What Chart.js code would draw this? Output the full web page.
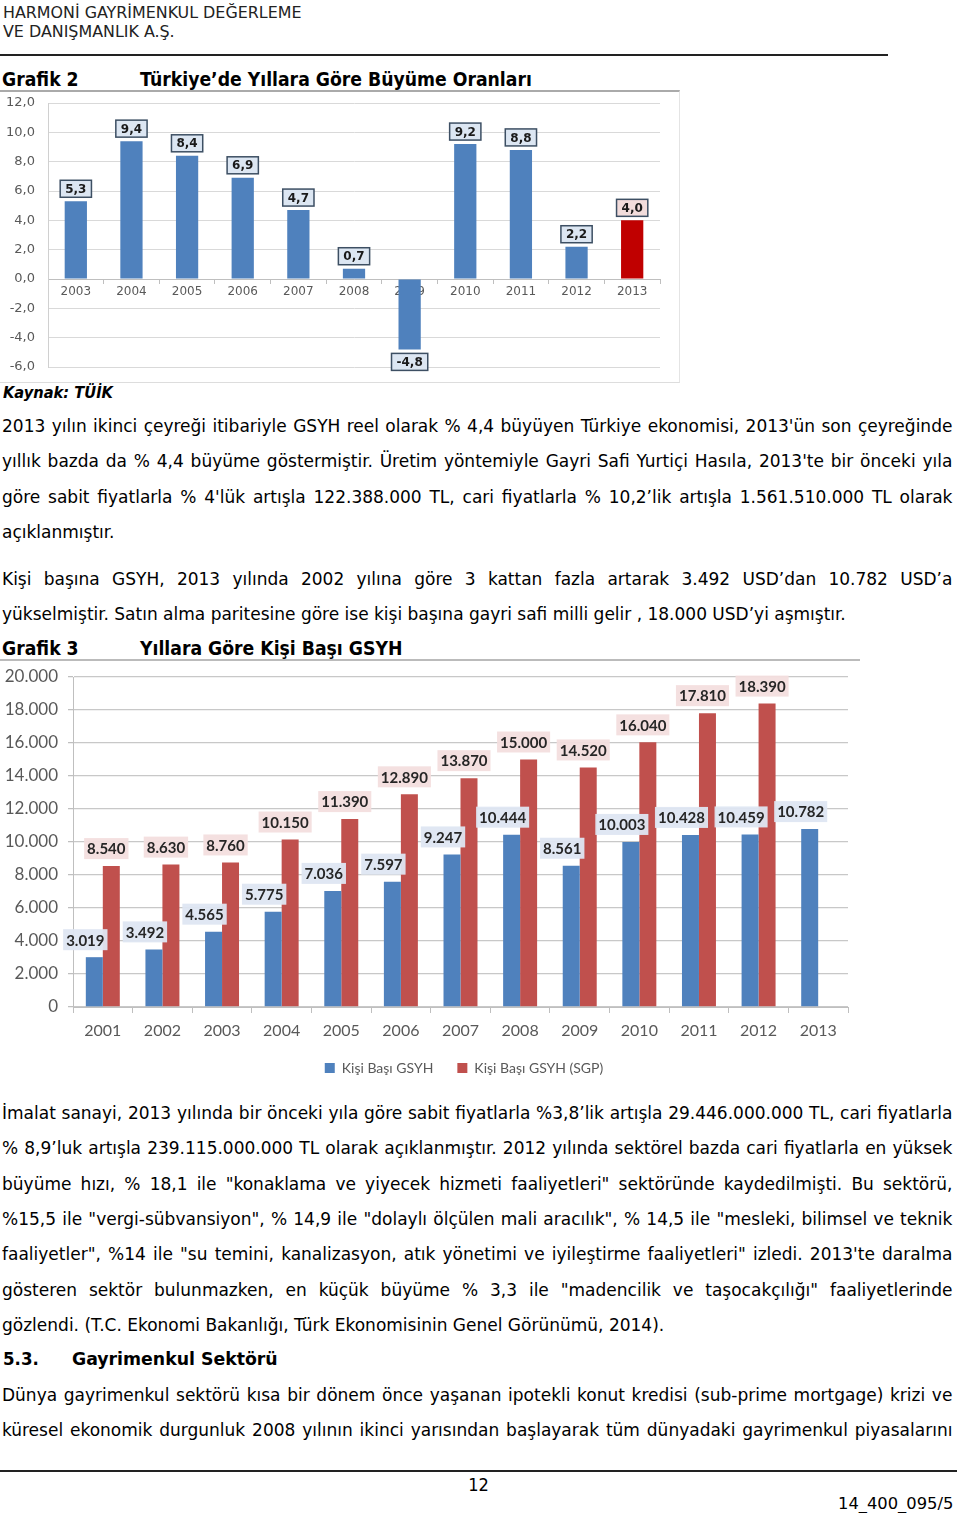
<!DOCTYPE html>
<html lang="tr">
<head>
<meta charset="utf-8">
<script src="https://cdn.jsdelivr.net/npm/chart.js@4.4.1/dist/chart.umd.min.js"></script>
<style>
  html, body { margin: 0; padding: 0; background: #fff; }
  body { width: 960px; height: 1513px; position: relative; overflow: hidden;
         font-family: "DejaVu Sans Condensed", "DejaVu Sans", sans-serif; font-stretch: condensed; color: #000; }
  .abs { position: absolute; white-space: nowrap; transform-origin: 0 0; }
  .hdr { left: 3px; font-size: 15.5px; color: #222; line-height: 19px; transform: scaleX(1.14); }
  .rule { position: absolute; height: 0; }
  .title { font-weight: bold; font-size: 19.2px; }
  .para { position: absolute; left: 2px; width: 880px; font-size: 17.5px; line-height: 35.33px;
          transform: scaleX(1.08); transform-origin: 0 0; }
  .para div { white-space: nowrap; }
  .j { text-align: justify; text-align-last: justify; }
  .box { position: absolute; }
</style>
</head>
<body>
<div class="abs hdr" style="top:4px">HARMONİ GAYRİMENKUL DEĞERLEME<br>VE DANIŞMANLIK A.Ş.</div>
<div class="rule" style="left:0;top:54px;width:888px;border-top:2px solid #222"></div>

<div class="abs title" style="left:2px;top:68px">Grafik 2</div>
<div class="abs title" style="left:140px;top:68px">Türkiye’de Yıllara Göre Büyüme Oranları</div>
<div class="box" style="left:0;top:90px;width:679px;height:290px;border-top:2px solid #aaa;border-right:1px solid #e4e4e4;border-bottom:1px solid #ddd">
  <canvas id="growth" width="679" height="290"></canvas>
</div>
<div class="abs" style="left:3px;top:384px;font-size:15.5px;font-weight:bold;font-style:italic;transform:scaleX(1.05)">Kaynak: TÜİK</div>

<div class="para" style="top:409px">
  <div class="j">2013 yılın ikinci çeyreği itibariyle GSYH reel olarak % 4,4 büyüyen Türkiye ekonomisi, 2013'ün son çeyreğinde</div>
  <div class="j">yıllık bazda da % 4,4 büyüme göstermiştir. Üretim yöntemiyle Gayri Safi Yurtiçi Hasıla, 2013'te bir önceki yıla</div>
  <div class="j">göre sabit fiyatlarla % 4'lük artışla 122.388.000 TL, cari fiyatlarla % 10,2’lik artışla 1.561.510.000 TL olarak</div>
  <div>açıklanmıştır.</div>
</div>
<div class="para" style="top:562px">
  <div class="j">Kişi başına GSYH, 2013 yılında 2002 yılına göre 3 kattan fazla artarak 3.492 USD’dan 10.782 USD’a</div>
  <div>yükselmiştir. Satın alma paritesine göre ise kişi başına gayri safi milli gelir , 18.000 USD’yi aşmıştır.</div>
</div>

<div class="abs title" style="left:2px;top:637px">Grafik 3</div>
<div class="abs title" style="left:140px;top:637px">Yıllara Göre Kişi Başı GSYH</div>
<div class="box" style="left:0;top:659px;width:860px;height:428px;border-top:2px solid #bbb">
  <canvas id="gdp" width="860" height="426"></canvas>
</div>

<div class="para" style="top:1096px">
  <div class="j">İmalat sanayi, 2013 yılında bir önceki yıla göre sabit fiyatlarla %3,8’lik artışla 29.446.000.000 TL, cari fiyatlarla</div>
  <div class="j">% 8,9’luk artışla 239.115.000.000 TL olarak açıklanmıştır. 2012 yılında sektörel bazda cari fiyatlarla en yüksek</div>
  <div class="j">büyüme hızı, % 18,1 ile "konaklama ve yiyecek hizmeti faaliyetleri" sektöründe kaydedilmişti. Bu sektörü,</div>
  <div class="j">%15,5 ile "vergi-sübvansiyon", % 14,9 ile "dolaylı ölçülen mali aracılık", % 14,5 ile "mesleki, bilimsel ve teknik</div>
  <div class="j">faaliyetler", %14 ile "su temini, kanalizasyon, atık yönetimi ve iyileştirme faaliyetleri" izledi. 2013'te daralma</div>
  <div class="j">gösteren sektör bulunmazken, en küçük büyüme % 3,3 ile "madencilik ve taşocakçılığı" faaliyetlerinde</div>
  <div>gözlendi. (T.C. Ekonomi Bakanlığı, Türk Ekonomisinin Genel Görünümü, 2014).</div>
</div>
<div class="abs title" style="left:3px;top:1348px;font-size:18.5px">5.3.</div>
<div class="abs title" style="left:72px;top:1348px;font-size:18.5px;transform:scaleX(1.04)">Gayrimenkul Sektörü</div>
<div class="para" style="top:1378px">
  <div class="j">Dünya gayrimenkul sektörü kısa bir dönem önce yaşanan ipotekli konut kredisi (sub-prime mortgage) krizi ve</div>
  <div class="j">küresel ekonomik durgunluk 2008 yılının ikinci yarısından başlayarak tüm dünyadaki gayrimenkul piyasalarını</div>
</div>

<div class="rule" style="left:0;top:1470px;width:957px;border-top:2px solid #222"></div>
<div class="abs" style="left:0;width:957px;text-align:center;top:1474px;font-size:18px">12</div>
<div class="abs" style="left:838px;top:1494px;font-size:16.5px;transform:scaleX(1.1)">14_400_095/5</div>

<script>
// Grafik 2 - büyüme oranları (%)
const growthYears = ["2003", "2004", "2005", "2006", "2007", "2008", "2009", "2010", "2011", "2012", "2013"];
const growthRates = [5.3, 9.4, 8.4, 6.9, 4.7, 0.7, -4.8, 9.2, 8.8, 2.2, 4.0];
const highlightYear = "2013";

// Grafik 3 - kişi başı GSYH (USD)
const gdpYears = ["2001", "2002", "2003", "2004", "2005", "2006", "2007", "2008", "2009", "2010", "2011", "2012", "2013"];
const gdpPerCapita = [3019, 3492, 4565, 5775, 7036, 7597, 9247, 10444, 8561, 10003, 10428, 10459, 10782];
const gdpPerCapitaPPP = [8540, 8630, 8760, 10150, 11390, 12890, 13870, 15000, 14520, 16040, 17810, 18390, null];

const trComma = (v) => v.toFixed(1).replace(".", ",");
const trThousands = (v) => v.toLocaleString("de-DE");

// draws the boxed value labels above/below each bar
const boxLabels = {
  id: "boxLabels",
  afterDatasetsDraw(chart) {
    const ctx = chart.ctx;
    chart.data.datasets.forEach((ds, di) => {
      const st = ds.labelStyle;
      if (!st) return;
      chart.getDatasetMeta(di).data.forEach((bar, i) => {
        const v = ds.data[i];
        if (v == null) return;
        const text = st.format(v);
        ctx.save();
        ctx.font = st.font;
        const w = ctx.measureText(text).width + st.padX * 2;
        const h = st.height;
        const cx = bar.x + st.dx;
        const cy = v >= 0 ? bar.y - st.gap - h / 2 : bar.y + st.gap + h / 2;
        ctx.fillStyle = Array.isArray(st.fill) ? st.fill[i] : st.fill;
        ctx.fillRect(cx - w / 2, cy - h / 2, w, h);
        if (st.border) {
          ctx.strokeStyle = st.border;
          ctx.lineWidth = 1.5;
          ctx.strokeRect(cx - w / 2, cy - h / 2, w, h);
        }
        ctx.fillStyle = st.color;
        ctx.textAlign = "center";
        ctx.textBaseline = "middle";
        ctx.fillText(text, cx, cy + 1);
        ctx.restore();
      });
    });
  }
};

new Chart(document.getElementById("growth"), {
  type: "bar",
  data: {
    labels: growthYears,
    datasets: [{
      data: growthRates,
      backgroundColor: growthYears.map((y) => (y === highlightYear ? "#C00000" : "#4F81BD")),
      borderWidth: 0,
      barPercentage: 0.8,
      categoryPercentage: 0.5,
      labelStyle: {
        format: trComma,
        font: "bold 12px 'DejaVu Sans'",
        color: "#1a1a1a",
        fill: growthYears.map((y) => (y === highlightYear ? "#F2DCDB" : "#DCE6F2")),
        border: "#3d4f63",
        padX: 5,
        height: 17,
        gap: 4,
        dx: 0
      }
    }]
  },
  options: {
    responsive: false,
    animation: false,
    layout: { padding: { top: 11, right: 19, bottom: 15, left: 0 } },
    plugins: { legend: { display: false }, tooltip: { enabled: false } },
    scales: {
      x: {
        position: { y: 0 },
        z: 1,
        grid: { drawOnChartArea: false, drawTicks: true, tickLength: 4, color: "#bfbfbf" },
        border: { color: "#bfbfbf" },
        ticks: { color: "#595959", padding: 2, font: { family: "DejaVu Sans", size: 12 } }
      },
      y: {
        min: -6,
        max: 12,
        afterFit: (s) => { s.width = 48; },
        ticks: { stepSize: 2, callback: trComma, color: "#595959", padding: 0, font: { family: "DejaVu Sans", size: 13 } },
        grid: { color: "#d9d9d9", drawTicks: true, tickLength: 13, tickColor: "rgba(0,0,0,0)" },
        border: { color: "#d0d0d0" }
      }
    }
  },
  plugins: [boxLabels]
});

// move the legend so it is centred as in the source figure
const legendShift = {
  id: "legendShift",
  afterLayout(chart, args, opts) {
    chart.legend.left += opts.dx;
    chart.legend.right += opts.dx;
  }
};

new Chart(document.getElementById("gdp"), {
  type: "bar",
  data: {
    labels: gdpYears,
    datasets: [
      {
        label: "Kişi Başı GSYH",
        data: gdpPerCapita,
        backgroundColor: "#4F81BD",
        labelStyle: {
          format: trThousands, font: "bold 15px Lato", color: "#262626",
          fill: "rgba(222,230,242,0.95)", padX: 3, height: 21, gap: 7, dx: -9
        }
      },
      {
        label: "Kişi Başı GSYH (SGP)",
        data: gdpPerCapitaPPP,
        backgroundColor: "#C0504D",
        labelStyle: {
          format: trThousands, font: "bold 15px Lato", color: "#262626",
          fill: "rgba(243,222,222,0.95)", padX: 3, height: 21, gap: 7, dx: -5
        }
      }
    ]
  },
  options: {
    responsive: false,
    animation: false,
    datasets: { bar: { categoryPercentage: 0.57, barPercentage: 1.0 } },
    layout: { padding: { top: 16, right: 12, bottom: 2, left: 0 } },
    plugins: {
      tooltip: { enabled: false },
      legend: {
        position: "bottom",
        labels: { boxWidth: 10, boxHeight: 10, padding: 24, color: "#595959", font: { family: "Lato", size: 14 } }
      },
      legendShift: { dx: 40 }
    },
    scales: {
      x: {
        afterFit: (s) => { s.height = 30; },
        grid: { drawOnChartArea: false, tickLength: 6, color: "#bfbfbf" },
        border: { color: "#bfbfbf" },
        ticks: { color: "#595959", padding: 8, font: { family: "Lato", size: 16 } }
      },
      y: {
        min: 0,
        max: 20000,
        afterFit: (s) => { s.width = 73; },
        ticks: { stepSize: 2000, callback: trThousands, color: "#595959", padding: 0, font: { family: "Lato", size: 17 } },
        grid: { color: "#c8c8c8", lineWidth: 1.3, tickLength: 15, tickColor: "#bfbfbf", tickBorderDash: [0, 10, 5, 0] },
        border: { color: "#bfbfbf" }
      }
    }
  },
  plugins: [boxLabels, legendShift]
});
</script>
</body>
</html>
